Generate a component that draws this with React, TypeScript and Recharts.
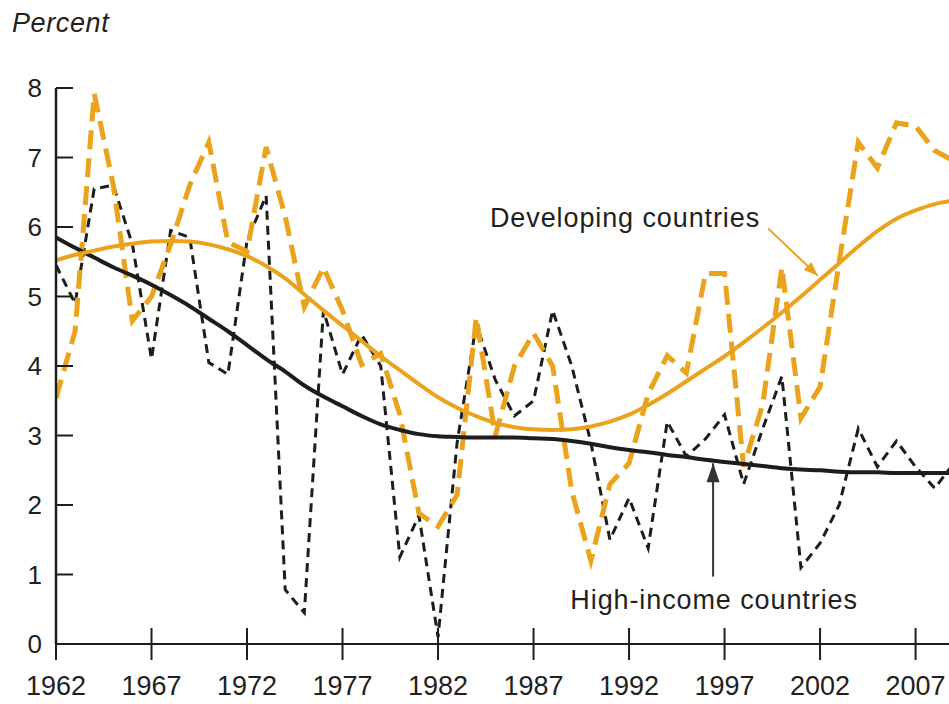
import React from 'react';
import { LineChart, Line, XAxis, YAxis, ReferenceLine } from 'recharts';

const years = [
  1962, 1963, 1964, 1965, 1966, 1967, 1968, 1969, 1970, 1971, 1972, 1973,
  1974, 1975, 1976, 1977, 1978, 1979, 1980, 1981, 1982, 1983, 1984, 1985,
  1986, 1987, 1988, 1989, 1990, 1991, 1992, 1993, 1994, 1995, 1996, 1997,
  1998, 1999, 2000, 2001, 2002, 2003, 2004, 2005, 2006, 2007, 2008, 2009,
];

const developing = [
  3.54, 4.5, 7.92, 6.6, 4.65, 5.0, 5.75, 6.6, 7.22, 5.78, 5.65, 7.15,
  6.15, 4.85, 5.42, 4.8, 4.02, 4.18, 3.3, 1.88, 1.69, 2.15, 4.7, 3.0,
  4.0, 4.47, 4.0, 2.2, 1.2, 2.3, 2.6, 3.6, 4.15, 3.9, 5.33, 5.33,
  2.55, 3.45, 5.42, 3.25, 3.7, 5.5, 7.22, 6.85, 7.5, 7.45, 7.1, 6.95,
];

const highIncome = [
  5.45, 4.9, 6.55, 6.6, 5.75, 4.1, 5.95, 5.85, 4.05, 3.88, 5.8, 6.45,
  0.78, 0.45, 4.8, 3.88, 4.45, 4.0, 1.25, 1.85, 0.1, 2.9, 4.6, 3.8,
  3.28, 3.5, 4.8, 4.0, 2.9, 1.5, 2.1, 1.38, 3.2, 2.7, 2.95, 3.3,
  2.3, 3.1, 3.85, 1.1, 1.45, 2.0, 3.1, 2.55, 2.92, 2.55, 2.24, 2.6,
];

const developingTrend = [
  5.52, 5.6, 5.66, 5.72, 5.76, 5.79, 5.8, 5.79, 5.75, 5.68, 5.58, 5.44,
  5.26, 5.03, 4.8, 4.58, 4.36, 4.14, 3.94, 3.74, 3.55, 3.4, 3.28, 3.18,
  3.12, 3.09, 3.08, 3.09, 3.13, 3.2, 3.3, 3.44, 3.6, 3.78, 3.96, 4.14,
  4.34, 4.55, 4.77, 5.0, 5.24, 5.48, 5.72, 5.94, 6.12, 6.24, 6.33, 6.38,
];

const highIncomeTrend = [
  5.85, 5.7, 5.56, 5.42, 5.3, 5.17, 5.02, 4.86, 4.68, 4.5, 4.3, 4.1,
  3.92, 3.72, 3.56, 3.42, 3.28, 3.16, 3.08, 3.02, 2.99, 2.98, 2.97, 2.97,
  2.97, 2.96, 2.95, 2.92, 2.88, 2.83, 2.79, 2.76, 2.72, 2.69, 2.65, 2.62,
  2.59, 2.56, 2.53, 2.51, 2.5, 2.48, 2.47, 2.47, 2.46, 2.46, 2.46, 2.46,
];

const xTicks = [1962, 1967, 1972, 1977, 1982, 1987, 1992, 1997, 2002, 2007];
const yTicks = [0, 1, 2, 3, 4, 5, 6, 7, 8];

const devLabel = 'Developing countries';
const highLabel = 'High-income countries';
const unitLabel = 'Percent';

const devArrow = [{ x: 1999.28, y: 5.98 }, { x: 2001.88, y: 5.3 }];
const highArrow = [{ x: 1996.4, y: 0.97 }, { x: 1996.4, y: 2.6 }];

const data = years.map((year, i) => ({
  year,
  dev: developing[i],
  high: highIncome[i],
  devTrend: developingTrend[i],
  highTrend: highIncomeTrend[i],
}));

const ORANGE = '#E9A31C';
const DARK = '#1d1d1b';
const TEXT = '#231f20';
const FONT = '"Liberation Sans", Arial, Helvetica, sans-serif';

const XTick = (props: any) => {
  const { x, y, payload } = props;
  return (
    <g>
      <line x1={x} x2={x} y1={y - 16} y2={y + 16} stroke={DARK} strokeWidth={2} />
      <text x={x} y={y + 51} textAnchor="middle" fontSize={27} fill={TEXT} fontFamily={FONT}>
        {payload.value}
      </text>
    </g>
  );
};

const YTick = (props: any) => {
  const { x, y, payload } = props;
  return (
    <g>
      <line x1={x} x2={x + 17} y1={y} y2={y} stroke={DARK} strokeWidth={2} />
      <text x={x - 14} y={y + 9} textAnchor="end" fontSize={26} fill={TEXT} fontFamily={FONT}>
        {payload.value}
      </text>
    </g>
  );
};

const arrowHead = (x1: number, y1: number, x2: number, y2: number, len: number, half: number) => {
  const dx = x2 - x1;
  const dy = y2 - y1;
  const d = Math.sqrt(dx * dx + dy * dy) || 1;
  const ux = dx / d;
  const uy = dy / d;
  const bx = x2 - ux * len;
  const by = y2 - uy * len;
  const px = -uy * half;
  const py = ux * half;
  return `${x2},${y2} ${bx + px},${by + py} ${bx - px},${by - py}`;
};

const DevArrowShape = (p: any) => {
  const { x1, y1, x2, y2 } = p;
  return (
    <g>
      <line x1={x1} y1={y1} x2={x2} y2={y2} stroke={ORANGE} strokeWidth={2} />
      <polygon points={arrowHead(x1, y1, x2, y2, 14, 5.5)} fill={ORANGE} />
      <text
        x={x1 - 8}
        y={y1 - 1}
        textAnchor="end"
        fontSize={27}
        letterSpacing={0.9}
        fill={TEXT}
        fontFamily={FONT}
      >
        {devLabel}
      </text>
    </g>
  );
};

const HighArrowShape = (p: any) => {
  const { x1, y1, x2, y2 } = p;
  return (
    <g>
      <line x1={x1} y1={y1} x2={x2} y2={y2} stroke="#333" strokeWidth={2} />
      <polygon points={arrowHead(x1, y1, x2, y2, 19, 6.5)} fill="#333" />
      <text
        x={x1 + 1}
        y={y1 + 32}
        textAnchor="middle"
        fontSize={27}
        letterSpacing={0.9}
        fill={TEXT}
        fontFamily={FONT}
      >
        {highLabel}
      </text>
    </g>
  );
};

export default function App() {
  return (
    <div style={{ position: 'absolute', left: 0, top: 0, width: 949, height: 704, background: '#fff' }}>
      <svg width={200} height={50} style={{ position: 'absolute', left: 0, top: 0 }}>
        <text x={12} y={32} fontSize={27} fontStyle="italic" fill={TEXT} fontFamily={FONT} letterSpacing={0.6}>
          {unitLabel}
        </text>
      </svg>
      <div style={{ position: 'absolute', left: 0, top: 0 }}>
        <LineChart width={949} height={704} data={data} margin={{ top: 88, right: 0, bottom: 0, left: 0 }}>
          <XAxis
            dataKey="year"
            type="number"
            domain={[1962, 2008.75]}
            allowDataOverflow
            ticks={xTicks}
            interval={0}
            tick={<XTick />}
            tickLine={false}
            tickSize={0}
            tickMargin={0}
            height={60}
            axisLine={{ stroke: DARK, strokeWidth: 2 }}
          />
          <YAxis
            type="number"
            domain={[0, 8]}
            ticks={yTicks}
            interval={0}
            tick={<YTick />}
            tickLine={false}
            tickSize={0}
            tickMargin={0}
            width={56}
            axisLine={{ stroke: DARK, strokeWidth: 2.5 }}
          />
          <Line
            dataKey="high"
            type="linear"
            stroke={DARK}
            strokeWidth={3}
            strokeDasharray="9 6"
            dot={false}
            isAnimationActive={false}
          />
          <Line
            dataKey="dev"
            type="linear"
            stroke={ORANGE}
            strokeWidth={5}
            strokeDasharray="19 9"
            dot={false}
            isAnimationActive={false}
          />
          <Line
            dataKey="highTrend"
            type="monotone"
            stroke={DARK}
            strokeWidth={4}
            dot={false}
            isAnimationActive={false}
          />
          <Line
            dataKey="devTrend"
            type="monotone"
            stroke={ORANGE}
            strokeWidth={4}
            dot={false}
            isAnimationActive={false}
          />
          <ReferenceLine segment={devArrow} shape={DevArrowShape} ifOverflow="visible" />
          <ReferenceLine segment={highArrow} shape={HighArrowShape} ifOverflow="visible" />
        </LineChart>
      </div>
    </div>
  );
}
